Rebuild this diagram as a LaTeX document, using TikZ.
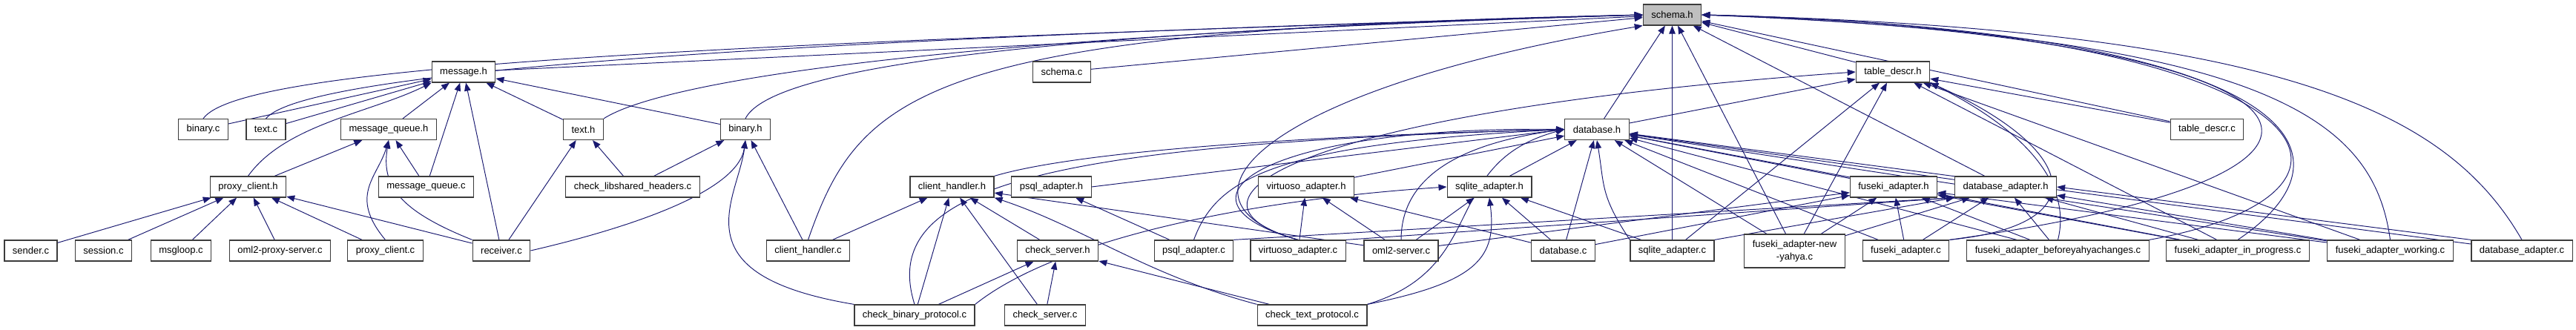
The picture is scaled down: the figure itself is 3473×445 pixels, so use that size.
\documentclass[tikz,border=0pt]{standalone}
\usepackage{fontspec}
\setmainfont{Liberation Sans}
\usetikzlibrary{arrows.meta, backgrounds}
\definecolor{doxyedge}{RGB}{25, 25, 112}
\definecolor{doxyroot}{RGB}{191, 191, 191}
\definecolor{doxyframe}{RGB}{60, 60, 60}

\begin{document}
\begin{tikzpicture}[x=0.02cm, y=-0.02cm,
    >={Triangle[length=0.22cm, width=0.17cm]},
    file/.style={draw=doxyframe, line width=0.7pt, fill=white, minimum height=0.56cm,
                 inner xsep=0.22cm, inner ysep=0pt, align=center,
                 font=\fontsize{7.4}{9.5}\selectfont},
    dep/.style={->, doxyedge, line width=0.55pt}]

\useasboundingbox (0,0) rectangle (3473,445);

% === Row 1 ===
\node[file, fill=doxyroot] (schemah) at (2254.5,20) {schema.h};

% === Row 2 ===
\node[file] (messageh) at (625,97) {message.h};
\node[file] (schemac) at (1431.5,97) {schema.c};
\node[file] (tabledescrh) at (2552,97) {table\_descr.h};

% === Row 3 ===
\node[file] (binaryc) at (274,174.5) {binary.c};
\node[file] (textc) at (358.5,174.5) {text.c};
\node[file] (mqh) at (524,174.5) {message\_queue.h};
\node[file] (texth) at (786.5,174.5) {text.h};
\node[file] (binaryh) at (1005,174.5) {binary.h};
\node[file] (databaseh) at (2153,174.5) {database.h};
\node[file] (tabledescrc) at (2975.5,174.5) {table\_descr.c};

% === Row 4 ===
\node[file] (proxyclienth) at (334.5,252) {proxy\_client.h};
\node[file] (mqc) at (574.5,252) {message\_queue.c};
\node[file] (checklib) at (853,252) {check\_libshared\_headers.c};
\node[file] (clienthandlerh) at (1283.5,252) {client\_handler.h};
\node[file] (psqlh) at (1417.5,252) {psql\_adapter.h};
\node[file] (virtuosoh) at (1761,252) {virtuoso\_adapter.h};
\node[file] (sqliteh) at (2008,252) {sqlite\_adapter.h};
\node[file] (fusekih) at (2553,252) {fuseki\_adapter.h};
\node[file] (dbadapterh) at (2704,252) {database\_adapter.h};

% === Row 5 ===
\node[file] (sender) at (41.5,338) {sender.c};
\node[file] (session) at (139.5,338) {session.c};
\node[file] (msgloop) at (244,338) {msgloop.c};
\node[file] (oml2proxy) at (377.5,338) {oml2-proxy-server.c};
\node[file] (proxyclientc) at (519.5,338) {proxy\_client.c};
\node[file] (receiver) at (676,338) {receiver.c};
\node[file] (clienthandlerc) at (1089.5,338) {client\_handler.c};
\node[file] (checkserverh) at (1426,338) {check\_server.h};
\node[file] (psqlc) at (1609.5,338) {psql\_adapter.c};
\node[file] (virtuosoc) at (1750,338) {virtuoso\_adapter.c};
\node[file] (oml2server) at (1889,338) {oml2-server.c};
\node[file] (databasec) at (2107.5,338) {database.c};
\node[file] (sqlitec) at (2254.5,338) {sqlite\_adapter.c};
\node[file, minimum height=0.9cm] (fusekinew) at (2419.5,338.5) {fuseki\_adapter-new\\-yahya.c};
\node[file] (fusekic) at (2569.5,338) {fuseki\_adapter.c};
\node[file] (fusekibefore) at (2774.5,338) {fuseki\_adapter\_beforeyahyachanges.c};
\node[file] (fusekiinprog) at (3017,338) {fuseki\_adapter\_in\_progress.c};
\node[file] (fusekiworking) at (3222.5,338) {fuseki\_adapter\_working.c};
\node[file] (dbadapterc) at (3400,338) {database\_adapter.c};

% === Row 6 ===
\node[file] (checkbinary) at (1233,425) {check\_binary\_protocol.c};
\node[file] (checkserverc) at (1409,425) {check\_server.c};
\node[file] (checktext) at (1769,425) {check\_text\_protocol.c};

\begin{scope}[on background layer]
% === message.h ===
\draw[dep] (binaryc) -- (messageh);
\draw[dep] (textc) -- (messageh);
\draw[dep] (mqh) -- (messageh);
\draw[dep] (mqc) -- (messageh);
\draw[dep] (receiver) -- (messageh);
\draw[dep] (texth) -- (messageh);
\draw[dep] (binaryh) -- (messageh);
\draw[dep] (proxyclienth.north) .. controls +(50,-70) and +(-80,40) .. (messageh.south west);

% === message_queue.h, proxy_client.h ===
\draw[dep] (proxyclienth) -- (mqh);
\draw[dep] (mqc) -- (mqh);
\draw[dep] (proxyclientc.north) .. controls +(-50,-60) and +(-15,50) .. (mqh.south);
\draw[dep] (receiver.north west) .. controls +(-100,-40) and +(-10,60) .. (mqh.south);
\draw[dep] (sender) -- (proxyclienth);
\draw[dep] (session) -- (proxyclienth);
\draw[dep] (msgloop) -- (proxyclienth);
\draw[dep] (oml2proxy) -- (proxyclienth);
\draw[dep] (proxyclientc) -- (proxyclienth);
\draw[dep] (receiver) -- (proxyclienth);

% === text.h, binary.h ===
\draw[dep] (receiver) -- (texth);
\draw[dep] (checklib) -- (texth);
\draw[dep] (checklib) -- (binaryh);
\draw[dep] (clienthandlerc) -- (binaryh);
\draw[dep] (receiver.east) .. controls +(130,-30) and +(-10,70) .. (binaryh.south);
\draw[dep] (checkbinary.north west) .. controls +(-240,-40) and +(-10,80) .. (binaryh.south);

% === schema.h, from the left ===
\draw[dep] (binaryc.north) .. controls +(50,-70) and +(-1300,40) .. (schemah.west);
\draw[dep] (textc.north) .. controls +(50,-60) and +(-1250,35) .. (schemah.west);
\draw[dep] (messageh) -- (schemah);
\draw[dep] (texth.north east) .. controls +(70,-45) and +(-1000,30) .. (schemah.west);
\draw[dep] (binaryh.north) .. controls +(30,-60) and +(-900,25) .. (schemah.west);
\draw[dep] (clienthandlerc.north) .. controls (1160,120) and (1250,40) .. (schemah.west);
\draw[dep] (schemac) -- (schemah);
\draw[dep] (virtuosoc.north) .. controls (1560,270) and (1700,120) .. (schemah.south west);

% === schema.h, from below ===
\draw[dep] (databaseh) -- (schemah);
\draw[dep] (sqlitec) -- (schemah);
\draw[dep] (fusekinew) -- (schemah);
\draw[dep] (dbadapterh) -- (schemah);

% === schema.h, from the right ===
\draw[dep] (tabledescrh) -- (schemah);
\draw[dep] (tabledescrc) -- (schemah);
\draw[dep] (fusekic.north east) .. controls (3300,230) and (3150,50) .. (schemah.east);
\draw[dep] (fusekibefore.north east) .. controls (3250,260) and (3150,40) .. (schemah.east);
\draw[dep] (fusekiinprog.north) .. controls (3200,200) and (3080,40) .. (schemah.east);
\draw[dep] (fusekiworking.north) .. controls (3200,160) and (3060,50) .. (schemah.east);
\draw[dep] (dbadapterc.north) .. controls (3300,150) and (3080,40) .. (schemah.east);

% === table_descr.h ===
\draw[dep] (databaseh) -- (tabledescrh);
\draw[dep] (virtuosoc.north) .. controls (1560,270) and (1750,150) .. (tabledescrh.west);
\draw[dep] (sqlitec) -- (tabledescrh);
\draw[dep] (fusekinew) -- (tabledescrh);
\draw[dep] (fusekic.north east) .. controls +(200,-20) and +(200,90) .. (tabledescrh.south east);
\draw[dep] (fusekibefore.north) .. controls +(20,-80) and +(120,60) .. (tabledescrh.south east);
\draw[dep] (fusekiinprog) -- (tabledescrh);
\draw[dep] (fusekiworking) -- (tabledescrh);
\draw[dep] (tabledescrc) -- (tabledescrh);

% === database.h ===
\draw[dep] (clienthandlerh.north east) .. controls +(100,-30) and +(-400,10) .. (databaseh.west);
\draw[dep] (psqlh.east) -- (databaseh.west);
\draw[dep] (virtuosoh) -- (databaseh);
\draw[dep] (sqliteh) -- (databaseh);
\draw[dep] (checkbinary.north) .. controls +(-50,-160) and +(-700,20) .. (databaseh.west);
\draw[dep] (psqlc.north) .. controls +(30,-80) and +(-400,20) .. (databaseh.west);
\draw[dep] (virtuosoc.north) .. controls (1560,270) and (1700,170) .. (databaseh.west);
\draw[dep] (oml2server.north) .. controls +(0,-80) and +(-150,20) .. (databaseh.west);
\draw[dep] (checktext.north east) .. controls (2010,360) and (1940,220) .. (databaseh.west);
\draw[dep] (databasec) -- (databaseh);
\draw[dep] (sqlitec.north west) .. controls +(-40,-60) and +(10,60) .. (databaseh.south);
\draw[dep] (fusekinew) -- (databaseh);
\draw[dep] (fusekih) -- (databaseh);
\draw[dep] (dbadapterh) -- (databaseh);
\draw[dep] (fusekic) -- (databaseh);
\draw[dep] (fusekibefore) -- (databaseh);
\draw[dep] (fusekiinprog) -- (databaseh);
\draw[dep] (fusekiworking) -- (databaseh);
\draw[dep] (dbadapterc) -- (databaseh);

% === adapter headers ===
\draw[dep] (databasec) -- (sqliteh);
\draw[dep] (sqlitec) -- (sqliteh);
\draw[dep] (oml2server) -- (sqliteh);
\draw[dep] (checkbinary.north east) .. controls +(100,-80) and +(-300,20) .. (sqliteh.west);
\draw[dep] (checktext.north east) .. controls +(150,-30) and +(10,80) .. (sqliteh.south);
\draw[dep] (virtuosoc) -- (virtuosoh);
\draw[dep] (oml2server) -- (virtuosoh);
\draw[dep] (databasec) -- (virtuosoh);
\draw[dep] (psqlc) -- (psqlh);

% === client_handler.h, check_server.h ===
\draw[dep] (clienthandlerc) -- (clienthandlerh);
\draw[dep] (checkbinary) -- (clienthandlerh);
\draw[dep] (checkserverc) -- (clienthandlerh);
\draw[dep] (checkserverh) -- (clienthandlerh);
\draw[dep] (oml2server) -- (clienthandlerh);
\draw[dep] (checktext.north west) .. controls +(-150,-40) and +(120,40) .. (clienthandlerh.south east);
\draw[dep] (checkbinary) -- (checkserverh);
\draw[dep] (checkserverc) -- (checkserverh);
\draw[dep] (checktext) -- (checkserverh);

% === fuseki_adapter.h ===
\draw[dep] (databasec) -- (fusekih);
\draw[dep] (oml2server) -- (fusekih);
\draw[dep] (fusekinew) -- (fusekih);
\draw[dep] (fusekic) -- (fusekih);
\draw[dep] (fusekibefore) -- (fusekih);
\draw[dep] (fusekiinprog) -- (fusekih);
\draw[dep] (fusekiworking) -- (fusekih);

% === database_adapter.h ===
\draw[dep] (psqlc.north east) -- (dbadapterh.south west);
\draw[dep] (virtuosoc.north east) -- (dbadapterh.south west);
\draw[dep] (sqlitec.north east) -- (dbadapterh.south west);
\draw[dep] (fusekinew) -- (dbadapterh);
\draw[dep] (fusekic) -- (dbadapterh);
\draw[dep] (fusekibefore) -- (dbadapterh);
\draw[dep] (fusekiinprog) -- (dbadapterh);
\draw[dep] (fusekiworking) -- (dbadapterh);
\draw[dep] (dbadapterc.north west) -- (dbadapterh.east);
\end{scope}

\end{tikzpicture}
\end{document}
